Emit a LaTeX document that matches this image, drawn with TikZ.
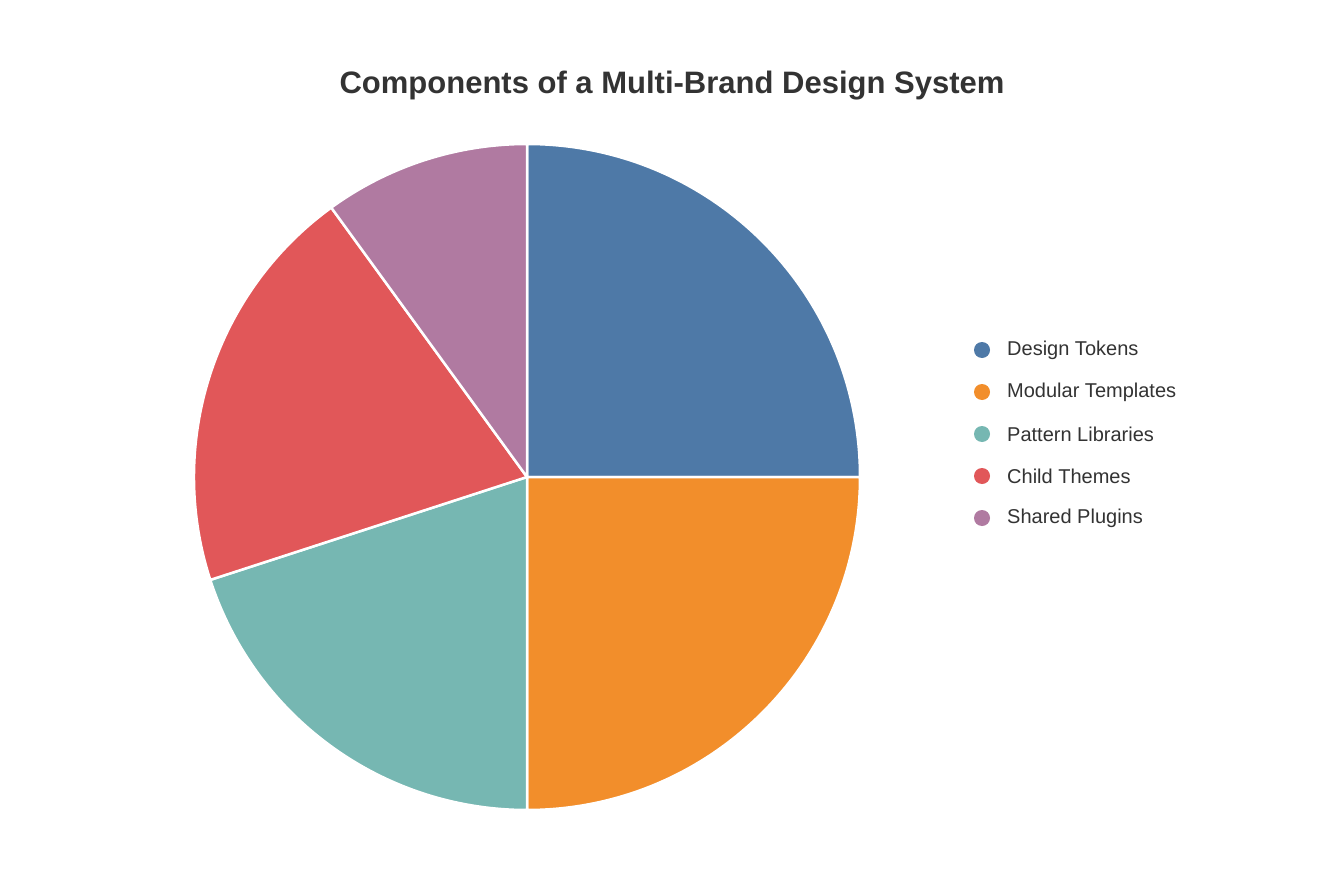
\documentclass[tikz,border=0pt]{standalone}
\usepackage{fontspec}
\setmainfont{Liberation Sans}
\definecolor{cblue}{HTML}{4E79A7}
\definecolor{corange}{HTML}{F28E2B}
\definecolor{cteal}{HTML}{76B7B2}
\definecolor{cred}{HTML}{E15759}
\definecolor{cpurple}{HTML}{B07AA1}
\definecolor{ctext}{HTML}{333333}
\tikzset{slice/.style={draw=white,line width=2.5pt,line join=round},
 dot/.style={circle,inner sep=0pt,minimum size=16pt},
 legtext/.style={anchor=west,font=\fontsize{20pt}{24pt}\selectfont,text=ctext,inner sep=0pt}}
\begin{document}
\begin{tikzpicture}[x=1pt,y=-1pt]
\useasboundingbox (0,0) rectangle (1336,869);
\fill[white] (0,0) rectangle (1336,869);
\node[font=\bfseries\fontsize{31pt}{36pt}\selectfont,text=ctext] (title) at (672,86) {Components of a Multi-Brand Design System};
\coordinate (c) at (527,477);
\def\R{333}
\filldraw[slice,fill=cblue] (c) -- ++(90:-\R) arc[start angle=-90,end angle=0,radius=\R] -- cycle;
\filldraw[slice,fill=corange] (c) -- ++(0:\R) arc[start angle=0,end angle=90,radius=\R] -- cycle;
\filldraw[slice,fill=cteal] (c) -- ++(90:\R) arc[start angle=90,end angle=162,radius=\R] -- cycle;
\filldraw[slice,fill=cred] (c) -- ++(162:\R) arc[start angle=162,end angle=234,radius=\R] -- cycle;
\filldraw[slice,fill=cpurple] (c) -- ++(234:\R) arc[start angle=234,end angle=270,radius=\R] -- cycle;
\node[dot,fill=cblue] (d1) at (982,350) {};
\node[dot,fill=corange] (d2) at (982,392) {};
\node[dot,fill=cteal] (d3) at (982,434) {};
\node[dot,fill=cred] (d4) at (982,476) {};
\node[dot,fill=cpurple] (d5) at (982,518) {};
\node[legtext] (l1) at (1007,350) {Design Tokens};
\node[legtext] (l2) at (1007,392) {Modular Templates};
\node[legtext] (l3) at (1007,434) {Pattern Libraries};
\node[legtext] (l4) at (1007,476) {Child Themes};
\node[legtext] (l5) at (1007,518) {Shared Plugins};
\end{tikzpicture}
\end{document}
